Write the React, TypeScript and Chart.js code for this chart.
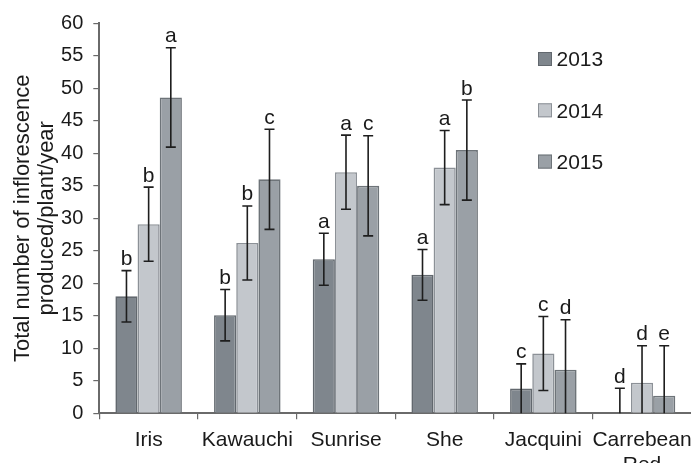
import React, { useEffect, useRef } from "react";
import { Chart, registerables } from "chart.js";

Chart.register(...registerables);

const categories = ["Iris", "Kawauchi", "Sunrise", "She", "Jacquini", "Carrebean Red"];
const years = ["2013", "2014", "2015"];

const values2013 = [18.0, 15.1, 23.7, 21.3, 3.8, 0];
const values2014 = [29.1, 26.2, 37.1, 37.8, 9.2, 4.7];
const values2015 = [48.6, 36.0, 35.0, 40.5, 6.7, 2.7];

const errors2013 = [3.95, 3.95, 4.0, 3.9, 3.8, 3.85];
const errors2014 = [5.7, 5.7, 5.7, 5.7, 5.7, 5.7];
const errors2015 = [7.65, 7.7, 7.7, 7.7, 7.7, 7.7];

const letters2013 = ["b", "b", "a", "a", "c", "d"];
const letters2014 = ["b", "b", "a", "a", "c", "d"];
const letters2015 = ["a", "c", "c", "b", "d", "e"];

const yMin = 0;
const yMax = 60;
const yStep = 5;

const yTitle = ["Total number of inflorescence", "produced/plant/year"];

const FONT = "'Liberation Sans', Arial, sans-serif";
const fills = ["#7f868d", "#c3c7cc", "#9aa0a6"];
const borders = ["#62686e", "#8c9197", "#6e7479"];

const errorSets = [errors2013, errors2014, errors2015];
const letterSets = [letters2013, letters2014, letters2015];

const errorBarPlugin = {
  id: "errorBars",
  afterDatasetsDraw(chart: any) {
    const ctx = chart.ctx;
    const y = chart.scales.y;
    const area = chart.chartArea;
    ctx.save();
    chart.data.datasets.forEach((ds: any, di: number) => {
      const meta = chart.getDatasetMeta(di);
      meta.data.forEach((bar: any, i: number) => {
        const v = ds.data[i];
        const e = errorSets[di][i];
        const hi = v + e;
        const lo = v - e;
        const x = bar.x;
        const yTop = y.getPixelForValue(hi);
        const yBot = lo > yMin ? y.getPixelForValue(lo) : area.bottom;
        const cap = 5;
        ctx.strokeStyle = "#1e1e1e";
        ctx.lineWidth = 1.6;
        ctx.beginPath();
        ctx.moveTo(x, yTop);
        ctx.lineTo(x, yBot);
        ctx.moveTo(x - cap, yTop);
        ctx.lineTo(x + cap, yTop);
        if (lo > yMin) {
          ctx.moveTo(x - cap, yBot);
          ctx.lineTo(x + cap, yBot);
        }
        ctx.stroke();
        ctx.fillStyle = "#1a1a1a";
        ctx.font = `21px ${FONT}`;
        ctx.textAlign = "center";
        ctx.textBaseline = "alphabetic";
        ctx.fillText(letterSets[di][i], x, yTop - 5.5);
      });
    });
    ctx.restore();
  },
};

const legendPlugin = {
  id: "customLegend",
  afterDraw(chart: any) {
    const ctx = chart.ctx;
    ctx.save();
    chart.data.datasets.forEach((ds: any, di: number) => {
      const cy = 59 + di * 51.3;
      const sx = 538;
      ctx.fillStyle = ds.backgroundColor;
      ctx.fillRect(sx, cy - 7, 14, 14);
      ctx.strokeStyle = ds.borderColor;
      ctx.lineWidth = 1;
      ctx.strokeRect(sx + 0.5, cy - 6.5, 13, 13);
      ctx.fillStyle = "#1a1a1a";
      ctx.font = `21px ${FONT}`;
      ctx.textAlign = "left";
      ctx.textBaseline = "middle";
      ctx.fillText(ds.label, 556.5, cy + 1.5);
    });
    ctx.restore();
  },
};

const W = 700;
const H = 480;

export default function App() {
  const ref = useRef<HTMLCanvasElement | null>(null);

  useEffect(() => {
    if (!ref.current) return;
    const valueSets = [values2013, values2014, values2015];
    const chart = new Chart(ref.current, {
      type: "bar",
      data: {
        labels: categories,
        datasets: years.map((yr, i) => ({
          label: yr,
          data: valueSets[i],
          backgroundColor: fills[i],
          borderColor: borders[i],
          borderWidth: 1.6,
          barPercentage: 1.0,
          categoryPercentage: 0.674,
        })),
      },
      options: {
        animation: false,
        responsive: false,
        devicePixelRatio: 1,
        layout: { padding: { top: 23.3, right: 4.3, bottom: 0, left: 0 } },
        plugins: {
          legend: { display: false },
          tooltip: { enabled: false },
        },
        scales: {
          x: {
            grid: {
              offset: true,
              drawOnChartArea: false,
              drawTicks: true,
              tickLength: 6,
              color: "#6a6a6a",
              lineWidth: 1.2,
            },
            border: { display: true, color: "#6a6a6a", width: 2 },
            ticks: {
              color: "#1a1a1a",
              font: { family: FONT, size: 21, lineHeight: 1.2 },
              padding: 8,
              maxRotation: 0,
              autoSkip: false,
              callback: function (this: any, val: any) {
                const lab = String(this.getLabelForValue(val));
                return lab.length > 10 && lab.includes(" ") ? lab.split(" ") : lab;
              },
            },
            afterFit: (scale: any) => {
              scale.height = H - 413.3;
            },
          },
          y: {
            min: yMin,
            max: yMax,
            grid: {
              drawOnChartArea: false,
              drawTicks: true,
              tickLength: 6,
              color: "#6a6a6a",
              lineWidth: 1.2,
            },
            border: { display: true, color: "#6a6a6a", width: 2 },
            ticks: {
              stepSize: yStep,
              color: "#1a1a1a",
              font: { family: FONT, size: 20 },
              padding: 10,
            },
            title: {
              display: true,
              text: yTitle,
              color: "#1a1a1a",
              font: { family: FONT, size: 22, lineHeight: 1.05 },
              padding: { top: 11.8, bottom: 0 },
            },
            afterFit: (scale: any) => {
              scale.width = 99.3;
            },
          },
        },
      },
      plugins: [errorBarPlugin, legendPlugin],
    });
    return () => chart.destroy();
  }, []);

  return (
    <div
      style={{
        position: "fixed",
        left: 0,
        top: 0,
        width: 691,
        height: 463,
        overflow: "hidden",
        background: "#ffffff",
      }}
    >
      <canvas ref={ref} width={W} height={H} style={{ display: "block", width: W, height: H }} />
    </div>
  );
}
